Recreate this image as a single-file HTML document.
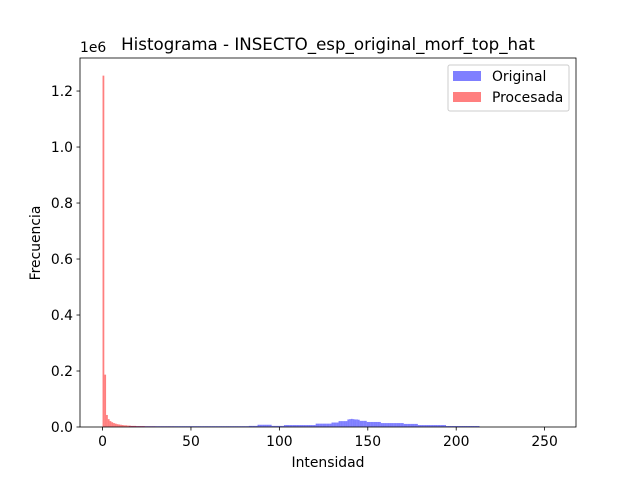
<!DOCTYPE html>
<html><head><meta charset="utf-8"><style>
body{margin:0;background:#fff}
svg{display:block;font-family:"DejaVu Sans","Liberation Sans",sans-serif}
</style></head><body>
<svg id="chart" width="640" height="480" viewBox="0 0 640 480">
<rect width="640" height="480" fill="#fff"/>
<g id="bars"></g>
<g id="axes"></g>
<text x="328" y="50" font-size="16.67" text-anchor="middle">Histograma - INSECTO_esp_original_morf_top_hat</text>
<text x="328" y="467" font-size="13.9" text-anchor="middle">Intensidad</text>
<text transform="translate(40,243) rotate(-90)" font-size="13.9" text-anchor="middle">Frecuencia</text>
<text x="80" y="52" font-size="13.9">1e6</text>
<g>
<rect x="448" y="65" width="121" height="46" rx="2" fill="#fff" fill-opacity="0.8" stroke="#ccc"/>
<rect x="453" y="71" width="28" height="10" fill="#0000ff" fill-opacity="0.5"/>
<text x="492" y="81" font-size="13.9">Original</text>
<rect x="453" y="92" width="28" height="10" fill="#ff0000" fill-opacity="0.5"/>
<text x="492" y="102" font-size="13.9">Procesada</text>
</g>
</svg>
<script>
// values in thousands of pixels, intensity 0..255
const original = [
1,1,1,1,1,1,1,1,1,1,1,1,1,1,1,
3,3,3,3,3,3,3,3,3,3,3,3,3,3,3,3,3,3,3,3,3,3,3,3,3,3,3,3,3,3,3,3,3,3,3,3,3,3,3,3,3,3,3,3,3,3,3,3,3,3,3,3,3,3,3,3,3,3,3,3,3,3,3,3,3,3,3,3,
4,4,4,4,4,
8,8,8,8,8,8,8,8,
4,4,4,4,4,4,4,
7,7,7,7,7,7,7,7,7,7,7,7,7,7,7,7,7,7,
12,12,12,12,12,12,12,12,12,
16,16,16,16,
21,21,21,21,21,
27,28,29,28,27,27,26,
22,22,22,22,
18,18,18,18,18,18,18,18,
14,14,14,14,14,14,14,14,14,14,14,14,14,
11,11,11,11,11,11,11,11,
7,7,7,7,7,7,7,7,7,7,7,7,7,7,7,7,
3.5,3.5,3.5,3.5,3.5,3.5,3.5,3.5,3.5,3.5,3.5,3.5,3.5,3.5,3.5,3.5,3.5,3.5,3.5,
0,0,0,0,0,0,0,0,0,0,0,0,0,0,0,0,0,0,0,0,0,0,0,0,0,0,0,0,0,0,0,0,0,0,0,0,0,0,0,0,0,0];
const procesada = [1255,187,43,28,21,17,14,12,10,9,8,7,6,6,5,5,4,4,4,3,3,3,3,3,2,2,2,2,2,2,1,1,1,1,1,1,1,1,1,1,1];
const xTicks = [0,50,100,150,200,250];
const yTicks = [0,0.2,0.4,0.6,0.8,1.0,1.2];
const yTickLabels = ["0.0","0.2","0.4","0.6","0.8","1.0","1.2"];

const X0=80,X1=576,Y0=427,Y1=58;
const xMin=-12.75,xMax=267.75,yMax=1.318; // y in millions
const sx=v=>X0+(v-xMin)/(xMax-xMin)*(X1-X0);
const sy=v=>Y0-v/yMax*(Y0-Y1);
const NS="http://www.w3.org/2000/svg";
const bars=document.getElementById('bars'), axes=document.getElementById('axes');
const bw=255/256;
function drawSeries(arr,color,name){
  arr.forEach((v,i)=>{
    if(v<=0) return;
    const r=document.createElementNS(NS,'rect');
    const x=sx(i*bw), x2=sx((i+1)*bw);
    r.setAttribute('x',x); r.setAttribute('width',x2-x);
    r.setAttribute('y',sy(v/1000)); r.setAttribute('height',Y0-sy(v/1000));
    r.setAttribute('fill',color); r.setAttribute('fill-opacity','0.5');
    
    
    bars.appendChild(r);
  });
}
drawSeries(original,'#0000ff','original');
drawSeries(procesada,'#ff0000','procesada');
function el(tag,attrs){const e=document.createElementNS(NS,tag);for(const k in attrs)e.setAttribute(k,attrs[k]);axes.appendChild(e);return e;}
const frame=el('rect',{x:X0,y:Y1,width:X1-X0,height:Y0-Y1,fill:'none',stroke:'#000','stroke-width':0.8});


xTicks.forEach(t=>{
  const l=el('line',{x1:sx(t),x2:sx(t),y1:Y0,y2:Y0+3.5,stroke:'#000','stroke-width':0.8});
  
  
  const tx=el('text',{x:sx(t),y:Y0+19,'font-size':13.9,'text-anchor':'middle'});
  tx.textContent=t;
  
  
});
yTicks.forEach((t,i)=>{
  const l=el('line',{x1:X0-3.5,x2:X0,y1:sy(t),y2:sy(t),stroke:'#000','stroke-width':0.8});
  
  
  const tx=el('text',{x:X0-7,y:sy(t)+5,'font-size':13.9,'text-anchor':'end'});
  tx.textContent=yTickLabels[i];
  
  
});
</script>
</body></html>
